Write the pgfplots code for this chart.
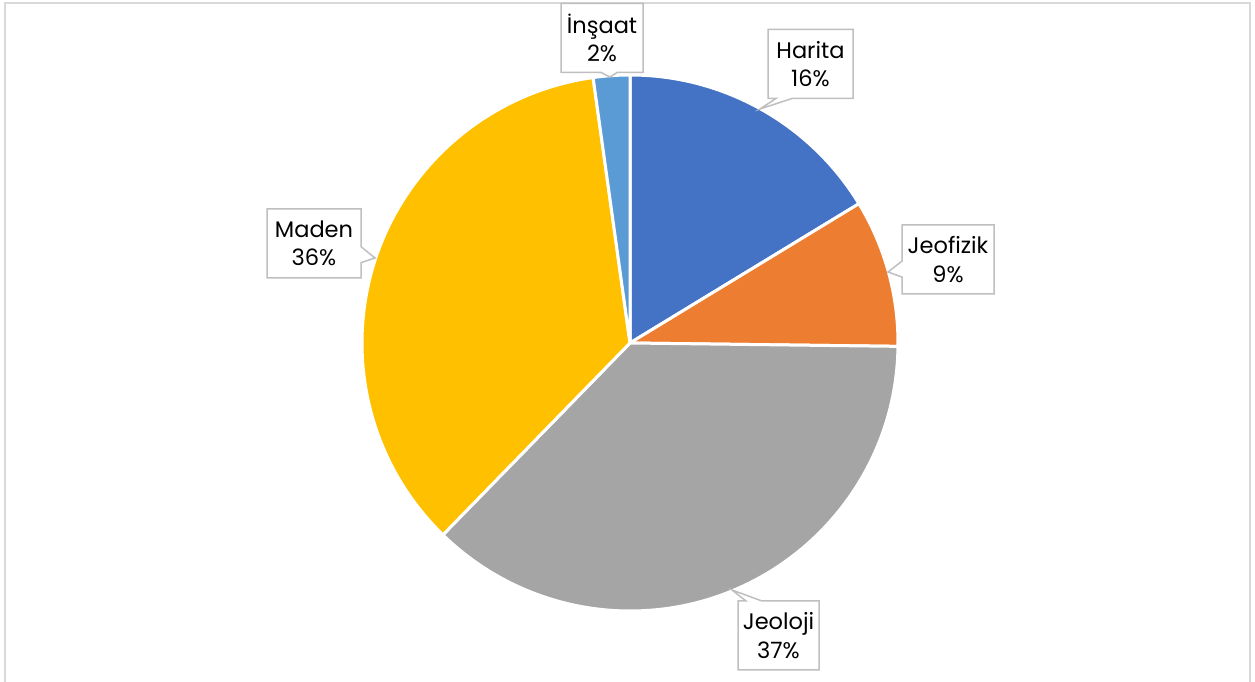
\documentclass[border=0pt]{standalone}
\usepackage{fontspec}
\setmainfont{Poppins}
\usepackage{pgfplots}
\usepackage{pgfplotstable}
\pgfplotsset{compat=1.18}
\usetikzlibrary{shapes.callouts}
\definecolor{pie0}{HTML}{4472C4}
\definecolor{pie1}{HTML}{ED7D31}
\definecolor{pie2}{HTML}{A5A5A5}
\definecolor{pie3}{HTML}{FFC000}
\definecolor{pie4}{HTML}{5B9BD5}
\definecolor{callgray}{HTML}{BFBFBF}
\definecolor{framegray}{HTML}{D9D9D9}
% share of each field (percent), clockwise from 12 o'clock
\pgfplotstableread{
idx value
0 16.3
1 8.9
2 37.1
3 35.5
4 2.2
}\piedata
\tikzset{lbl/.style={rectangle callout, draw=callgray, fill=white, line width=1.5pt,
  inner sep=0pt, minimum height=69pt, align=center, callout pointer width=16pt,
  font=\fontsize{22.5}{28.5}\selectfont}}
\begin{document}
\begin{tikzpicture}
\begin{axis}[width=1255pt,height=682pt,scale only axis,
  xmin=0,xmax=1255,ymin=0,ymax=682,hide axis,clip=false,
  at={(0,0)},anchor=origin]
\draw[framegray,line width=2pt] (axis cs:5,0) -- (axis cs:5,679) -- (axis cs:1250,679) -- (axis cs:1250,0);
\def\cum{0}
\pgfplotsforeachungrouped \i in {0,...,4}{%
  \pgfplotstablegetelem{\i}{value}\of\piedata
  \let\v\pgfplotsretval
  \pgfmathsetmacro\start{90-3.6*\cum}%
  \pgfmathsetmacro\cum{\cum+\v}%
  \pgfmathsetmacro\stop{90-3.6*\cum}%
  \edef\temp{\noexpand\filldraw[fill=pie\i,draw=white,line width=3pt,line join=round] (axis cs:630,339) -- ++(\start:268pt) arc[start angle=\start,end angle=\stop,radius=268pt] -- cycle;}%
  \temp
}
\node[lbl,minimum width=85pt,callout absolute pointer={(axis cs:760,573)}] at (axis cs:810.5,618) {Harita\\16\%};
\node[lbl,minimum width=92pt,callout absolute pointer={(axis cs:888,410)}] at (axis cs:948,422.5) {Jeofizik\\9\%};
\node[lbl,minimum width=81pt,callout absolute pointer={(axis cs:732,92)}] at (axis cs:778.5,46.5) {Jeoloji\\37\%};
\node[lbl,minimum width=94pt,callout absolute pointer={(axis cs:375,424)}] at (axis cs:314,438.5) {Maden\\36\%};
\node[lbl,minimum width=82pt,callout absolute pointer={(axis cs:610,605)}] at (axis cs:602,644) {İnşaat\\2\%};
\end{axis}
\pgfresetboundingbox
\path (0,0) rectangle (1255pt,682pt);
\end{tikzpicture}
\end{document}
